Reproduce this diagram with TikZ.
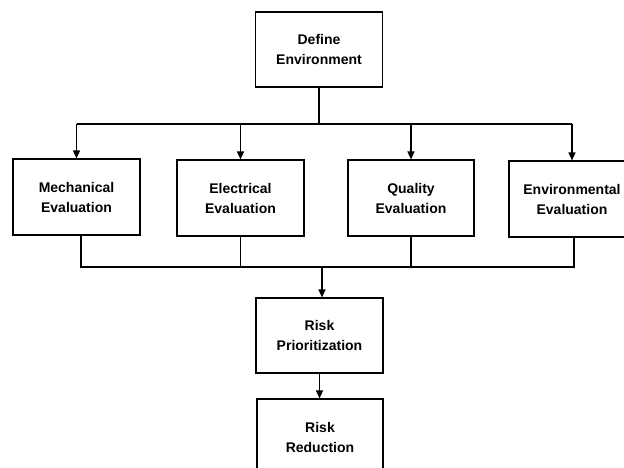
\documentclass[tikz,border=0pt]{standalone}
\usepackage{fontspec}
\setmainfont{Liberation Sans}
\usetikzlibrary{arrows.meta}
\begin{document}
\begin{tikzpicture}[x=1pt,y=-1pt,
  box/.style={draw, line width=1.1pt, minimum width=127pt, minimum height=76pt,
    align=center, inner sep=0pt, font=\fontsize{14}{20}\selectfont\bfseries},
  conn/.style={line width=1.4pt},
  arr/.style={conn, -{Triangle[length=8pt,width=7pt]}}]
\useasboundingbox (0,0) rectangle (624,468);
\clip (0,0) rectangle (624,468);
\node[box, minimum height=75pt] (def) at (319,49.5) {Define\\Environment};
\node[box] (mech) at (76.5,197) {Mechanical\\Evaluation};
\node[box] (elec) at (240.5,198) {Electrical\\Evaluation};
\node[box, minimum width=126pt] (qual) at (411,198) {Quality\\Evaluation};
\node[box, minimum width=126pt] (env) at (572,199) {Environmental\\Evaluation};
\node[box, minimum height=75pt] (prio) at (319.5,335.5) {Risk\\Prioritization};
\node[box, minimum width=126pt] (red) at (320,437) {Risk\\Reduction};
\coordinate (tb) at (0,124);
\coordinate (bb) at (0,267);
\draw[conn] (def.south) -- (def.south |- tb);
\draw[conn] (mech.north |- tb) -- (env.north |- tb);
\foreach \n in {mech,elec,qual,env} \draw[arr] (\n.north |- tb) -- (\n.north);
\draw[conn] ([xshift=4.5pt]mech.south) -- ([xshift=4.5pt]mech.south |- bb)
  -- ([xshift=2pt]env.south |- bb) -- ([xshift=2pt]env.south);
\draw[conn] (elec.south) -- (elec.south |- bb);
\draw[conn] (qual.south) -- (qual.south |- bb);
\draw[arr] ([xshift=2.5pt]prio.north |- bb) -- ([xshift=2.5pt]prio.north);
\draw[arr] (prio.south) -- (prio.south |- red.north);
\end{tikzpicture}
\end{document}
